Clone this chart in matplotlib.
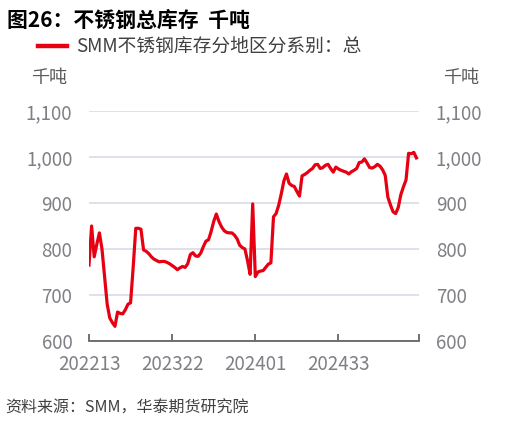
import matplotlib
matplotlib.use("Agg")
import matplotlib.pyplot as plt

plt.rcParams['font.family'] = ['Noto Sans CJK SC', 'DejaVu Sans']

# 周度数据（千吨）
inventory = [
    765, 850, 783, 810, 835, 800, 740, 680, 650, 640,
    632, 663, 660, 659, 668, 680, 683, 760, 845, 845,
    843, 798, 795, 790, 783, 778, 775, 772, 773, 773,
    771, 768, 764, 760, 755, 759, 762, 760, 768, 788,
    792, 785, 784, 791, 805, 817, 820, 838, 860, 876,
    860, 848, 840, 836, 835, 835, 830, 822, 808, 803,
    800, 775, 745, 898, 740, 750, 752, 753, 760, 767,
    770, 870, 877, 895, 920, 948, 963, 943, 938, 936,
    925, 915, 959, 962, 966, 971, 975, 983, 984, 975,
    977, 982, 984, 975, 967, 978, 974, 971, 969, 967,
    963, 968, 971, 975, 988, 989, 996, 987, 977, 976,
    979, 984, 980, 972, 960, 913, 896, 881, 877, 890,
    918, 935, 950, 1008, 1007, 1010, 998,
]
tick_pos = [0, 32, 64, 96, 127]
tick_labels = ['202213', '202322', '202401', '202433', '']
y_ticks = [600, 700, 800, 900, 1000, 1100]
y_labels = ['600', '700', '800', '900', '1,000', '1,100']

fig = plt.figure(figsize=(5.18, 4.26), dpi=100)
ax = fig.add_axes([0.1718, 0.1995, 0.6371, 0.54])

ax.plot(range(len(inventory)), inventory, color='#e60012', lw=2.3,
        solid_joinstyle='round')
ax.set_xlim(0, 127)
ax.set_ylim(600, 1100)

ax.set_yticks(y_ticks)
ax.set_yticklabels(y_labels)
ax.set_xticks(tick_pos)
ax.set_xticklabels(tick_labels)
ax.grid(axis='y', color='#d9dce6', lw=1.2)
ax.set_axisbelow(True)

for s in ['top', 'left', 'right']:
    ax.spines[s].set_visible(False)
ax.spines['bottom'].set_color('#595959')
ax.spines['bottom'].set_linewidth(1.2)

ax.tick_params(axis='x', direction='in', length=5, width=1.2, color='#595959',
               labelsize=13.5, labelcolor='#7f7f86', pad=9)
ax.tick_params(axis='y', length=0, labelsize=13.5, labelcolor='#7f7f86',
               pad=12, labelright=True)

fig.text(0.014, 0.952, '图26：不锈钢总库存  千吨', fontsize=15, fontweight='bold',
         color='black', va='center', ha='left')
fig.lines.append(plt.Line2D([0.074, 0.129], [0.892, 0.892], transform=fig.transFigure,
                            color='#e60012', lw=3.2))
fig.text(0.147, 0.892, 'SMM不锈钢库存分地区分系别：总', fontsize=13.5,
         color='#404040', va='center', ha='left')
fig.text(0.06, 0.817, '千吨', fontsize=13, color='#595959', va='center', ha='left')
fig.text(0.855, 0.817, '千吨', fontsize=13, color='#595959', va='center', ha='left')
fig.text(0.01, 0.042, '资料来源：SMM，华泰期货研究院', fontsize=11.5, style='italic',
         color='#404040', va='center', ha='left')

fig.savefig('out.png', dpi=100)
